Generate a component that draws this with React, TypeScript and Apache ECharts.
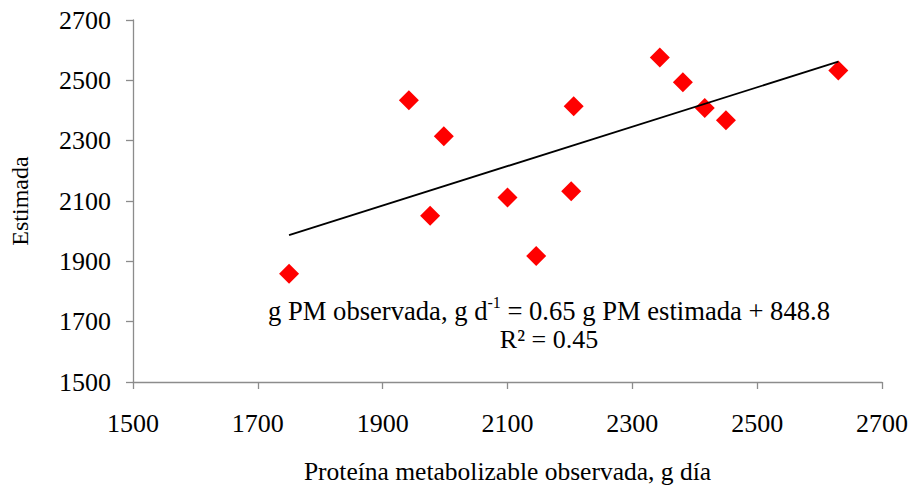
import React, { useEffect, useRef } from "react";
import * as echarts from "echarts";

const observedX = [1750, 1942, 1976, 1998, 2100, 2146, 2202, 2206, 2344, 2381, 2416, 2450, 2630];
const estimatedY = [1859, 2434, 2051, 2315, 2112, 1918, 2132, 2414, 2576, 2494, 2408, 2368, 2533];
const trendX = [1750, 2630];
const trendY = [1987, 2562];
const xTicks = [1500, 2700, 200];
const yTicks = [1500, 2700, 200];

const FONT = "'Liberation Serif', 'Times New Roman', serif";

export default function App() {
  const ref = useRef<HTMLDivElement>(null);
  useEffect(() => {
    document.body.style.margin = "0";
    const chart = echarts.init(ref.current!, null, { renderer: "svg" });
    const axisCommon = {
      axisLine: { show: true, lineStyle: { color: "#8c8c8c", width: 1.3 } },
      axisTick: { show: true, length: 7, lineStyle: { color: "#8c8c8c", width: 1.3 } },
      splitLine: { show: false },
    };
    chart.setOption({
      animation: false,
      backgroundColor: "#fff",
      grid: { left: 133, right: 29, top: 20, bottom: 109 },
      xAxis: {
        type: "value",
        min: xTicks[0],
        max: xTicks[1],
        interval: xTicks[2],
        name: "Proteína metabolizable observada, g día",
        nameLocation: "middle",
        nameGap: 76,
        nameTextStyle: { color: "#000", fontFamily: FONT, fontSize: 25.5 },
        axisLabel: { color: "#000", fontFamily: FONT, fontSize: 26, margin: 28, formatter: (v: number) => String(v) },
        ...axisCommon,
      },
      yAxis: {
        type: "value",
        min: yTicks[0],
        max: yTicks[1],
        interval: yTicks[2],
        name: "Estimada",
        nameLocation: "middle",
        nameGap: 101,
        nameTextStyle: { color: "#000", fontFamily: FONT, fontSize: 24 },
        axisLabel: { color: "#000", fontFamily: FONT, fontSize: 26, margin: 22, formatter: (v: number) => String(v) },
        ...axisCommon,
      },
      series: [
        {
          type: "line",
          data: trendX.map((x, i) => [x, trendY[i]]),
          symbol: "none",
          lineStyle: { color: "#000", width: 1.8 },
          z: 3,
        },
        {
          type: "scatter",
          data: observedX.map((x, i) => [x, estimatedY[i]]),
          symbol: "diamond",
          symbolSize: 20,
          itemStyle: { color: "#ff0000", opacity: 1 },
          z: 2,
        },
      ],
      graphic: [
        {
          type: "text",
          x: 549,
          y: 309,
          style: {
            text: "{a|g PM observada, g d}{s|-1}{a| = 0.65 g PM estimada + 848.8}",
            align: "center",
            verticalAlign: "middle",
            rich: {
              a: { fontFamily: FONT, fontSize: 26.6, fill: "#000", verticalAlign: "bottom", lineHeight: 30 },
              s: { fontFamily: FONT, fontSize: 16, fill: "#000", verticalAlign: "top", lineHeight: 30 },
            },
          },
        },
        {
          type: "text",
          x: 549,
          y: 339,
          style: {
            text: "R² = 0.45",
            align: "center",
            verticalAlign: "middle",
            fontFamily: FONT,
            fontSize: 26,
            fill: "#000",
          },
        },
      ],
    });
    return () => chart.dispose();
  }, []);
  return <div ref={ref} style={{ width: 911, height: 491 }} />;
}
